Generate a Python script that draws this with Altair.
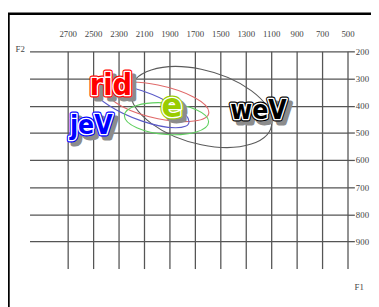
import altair as alt
import pandas as pd

# ---- data -------------------------------------------------------------
f2_ticks = [2700, 2500, 2300, 2100, 1900, 1700, 1500, 1300, 1100, 900, 700, 500]
f1_ticks = [200, 300, 400, 500, 600, 700, 800, 900]

# vowel ellipses: centre (F2, F1), horizontal half-extent (F2 Hz),
# F1 drop of the right-hand end (Hz), vertical half-chord through centre (F1 Hz)
ell_names = ["weV", "rid", "jeV", "e"]
ell_f2 = [1650, 1990, 2115, 1923]
ell_f1 = [405, 386, 401, 448]
ell_halfwidth = [556, 400, 369, 331]
ell_tilt = [54, 38, 58, 11]
ell_halfheight = [139, 62, 56, 58]

label_text = ["rid", "jeV", "e", "weV"]
label_f2 = [2360, 2515, 1880, 1200]
label_f1 = [361, 506, 441, 448]

# ---- styles -----------------------------------------------------------
ELL_COLORS = {"weV": "#5a5a5a", "rid": "#e06a6a", "jeV": "#5a5ac8", "e": "#5fcf5f"}
LABEL_COLORS = {"rid": "#ff0000", "jeV": "#0000ff", "e": "#99cc00", "weV": "#000000"}
LABEL_PX = {"rid": 31, "jeV": 27, "e": 35, "weV": 27}

W_PX, H_PX = 325, 222
F2_DOMAIN = [3000, 500]
F1_DOMAIN = [1000, 200]
KX = W_PX / (F2_DOMAIN[0] - F2_DOMAIN[1])
KY = H_PX / (F1_DOMAIN[0] - F1_DOMAIN[1])

GRID = "#555555"
SERIF = "Liberation Serif"
BOLD = "DejaVu Sans Condensed, sans-serif"

x_enc = alt.X(
    "f2:Q",
    scale=alt.Scale(domain=F2_DOMAIN, nice=False, zero=False),
    axis=alt.Axis(
        orient="top", values=f2_ticks, format="d", grid=True, gridColor=GRID,
        gridWidth=1.3, gridOpacity=1, domain=False, ticks=False, tickSize=0,
        labelPadding=13, labelFont=SERIF, labelFontSize=9, labelColor="#444444",
        labelAngle=0, labelOverlap=False, labelFlush=False,
        title="F2", titleX=-10, titleY=-3, titleAngle=0, titleAlign="center",
        titleBaseline="middle", titleFont=SERIF, titleFontSize=9,
        titleFontWeight="normal", titleColor="#444444",
    ),
)
y_enc = alt.Y(
    "f1:Q",
    scale=alt.Scale(domain=F1_DOMAIN, nice=False, zero=False),
    axis=alt.Axis(
        orient="right", values=f1_ticks, format="d", grid=True, gridColor=GRID,
        gridWidth=1.3, gridOpacity=1, domain=False, ticks=True, tickSize=7,
        tickColor=GRID, tickWidth=1.3, labelPadding=1, labelFont=SERIF,
        labelFontSize=9, labelColor="#444444", labelOverlap=False, labelFlush=False,
        title="F1", titleX=11.5, titleY=240, titleAngle=0, titleAlign="center",
        titleBaseline="middle", titleFont=SERIF, titleFontSize=9,
        titleFontWeight="normal", titleColor="#444444",
    ),
)


def ellipse_path(d, r):
    k = 0.5523
    circle = [(1, 0), (1, k), (k, 1), (0, 1), (-k, 1), (-1, k), (-1, 0),
              (-1, -k), (-k, -1), (0, -1), (k, -1), (1, -k), (1, 0)]
    P = [(px, d * px + r * py) for px, py in circle]
    s = f"M{P[0][0]:.4f},{P[0][1]:.4f}"
    for i in range(1, 13, 3):
        s += " C" + " ".join(f"{P[j][0]:.4f},{P[j][1]:.4f}" for j in (i, i + 1, i + 2))
    return s + " Z"


layers = []

# ellipses
for name, f2, f1, hw, tilt, hh in zip(ell_names, ell_f2, ell_f1, ell_halfwidth, ell_tilt, ell_halfheight):
    w_px = hw * KX
    d = tilt * KY / w_px
    r = hh * KY / w_px
    df = pd.DataFrame({"vowel": [name], "f2": [f2], "f1": [f1]})
    layers.append(
        alt.Chart(df).mark_point(
            shape=ellipse_path(d, r), filled=False, opacity=1,
            strokeWidth=1.1, color=ELL_COLORS[name], size=(2 * w_px) ** 2,
        ).encode(x=x_enc, y=y_enc)
    )

# labels: grey drop shadow, coloured outer outline, white inner ring, solid fill
labels = pd.DataFrame({"label": label_text, "f2": label_f2, "f1": label_f1})
labels["fs"] = labels["label"].map(LABEL_PX)
cs = alt.Scale(domain=label_text, range=[LABEL_COLORS[t] for t in label_text])
lbase = alt.Chart(labels).encode(x=x_enc, y=y_enc, text="label:N",
                                 size=alt.Size("fs:Q", scale=None, legend=None))
tprops = dict(font=BOLD, fontWeight="bold", align="center", baseline="alphabetic",
              strokeJoin="round")
layers.append(lbase.mark_text(dx=4, dy=4, fill="#8c8c8c", stroke="#8c8c8c",
                              strokeWidth=5, **tprops))
layers.append(lbase.mark_text(strokeWidth=5, **tprops).encode(
    color=alt.Color("label:N", scale=cs, legend=None),
    stroke=alt.Stroke("label:N", scale=cs, legend=None)))
layers.append(lbase.mark_text(stroke="white", strokeWidth=2.8, **tprops).encode(
    color=alt.Color("label:N", scale=cs, legend=None)))
layers.append(lbase.mark_text(**tprops).encode(
    color=alt.Color("label:N", scale=cs, legend=None)))

# frame
one = pd.DataFrame({"k": [0]})
layers.append(alt.Chart(one).mark_rule(color="black", strokeWidth=2.5).encode(
    x=alt.value(-21.5), y=alt.value(-39), y2=alt.value(H_PX + 40)))
layers.append(alt.Chart(one).mark_rule(color="black", strokeWidth=2.5).encode(
    y=alt.value(-38.5), x=alt.value(-23), x2=alt.value(W_PX + 30)))

chart = alt.layer(*layers).properties(
    width=W_PX, height=H_PX,
    padding={"left": 22, "top": 41, "right": 24, "bottom": 36},
    autosize=alt.AutoSizeParams(type="none"),
    background="white",
).configure_view(stroke=None)

chart.save("out.html", embed_options={"renderer": "svg", "actions": False})
